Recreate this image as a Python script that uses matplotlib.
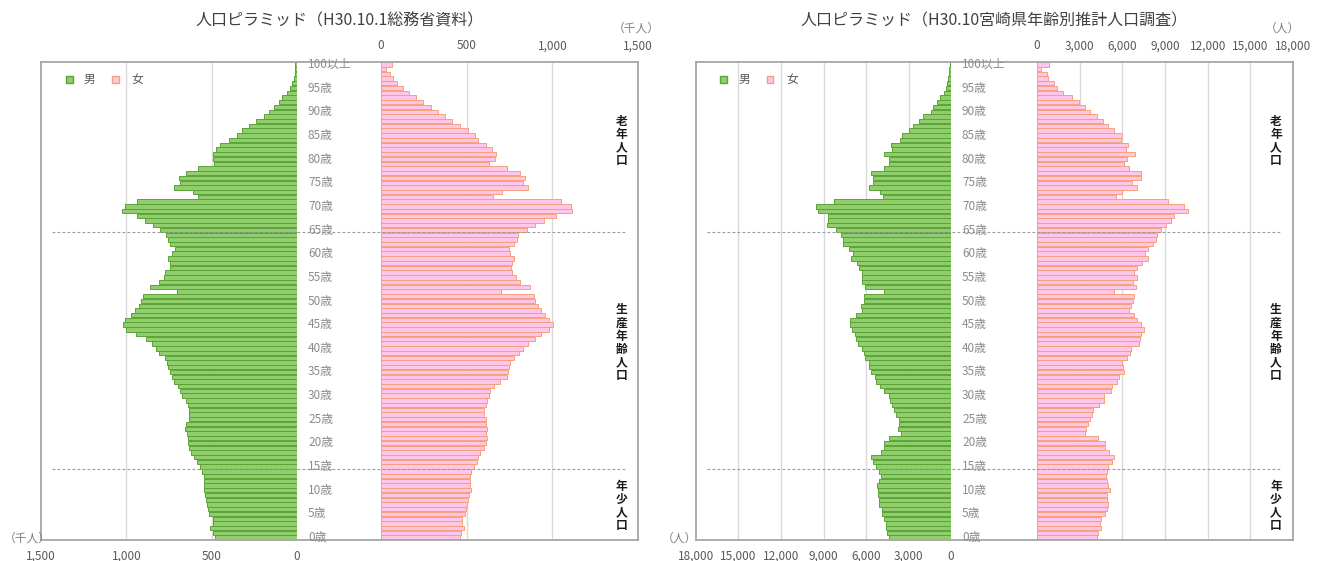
import matplotlib
matplotlib.use("Agg")
import matplotlib.pyplot as plt
from matplotlib.patches import Rectangle
from matplotlib.ticker import FixedLocator, FuncFormatter
from matplotlib.transforms import blended_transform_factory

plt.rcParams['font.family'] = ['Noto Sans CJK JP', 'DejaVu Sans']

# ---------------------------------------------------------------- data
ages = list(range(0, 101))  # 100 = 100歳以上

# 全国（総務省 H30.10.1, 千人）
japan_male = [
    479, 490, 511, 490, 495, 513, 524, 529, 533, 540,
    547, 545, 542, 542, 556, 567, 585, 601, 619, 630,
    639, 641, 646, 655, 650, 634, 630, 634, 641, 652,
    675, 686, 698, 718, 731, 747, 754, 763, 776, 810,
    826, 850, 885, 945, 1001, 1019, 1006, 974, 950, 927,
    916, 900, 702, 862, 810, 781, 772, 747, 747, 754,
    731, 713, 742, 754, 765, 803, 844, 889, 940, 1024,
    1008, 940, 578, 607, 720, 686, 691, 652, 578, 484,
    490, 490, 472, 450, 400, 353, 322, 281, 241, 196,
    164, 135, 108, 85, 61, 43, 29, 20, 13, 9,
    10,
]
japan_female = [
    459, 466, 486, 470, 475, 493, 497, 500, 506, 511,
    524, 522, 520, 518, 527, 545, 558, 567, 578, 601,
    612, 617, 614, 617, 612, 610, 601, 601, 610, 617,
    628, 639, 657, 695, 734, 740, 745, 752, 774, 803,
    830, 860, 898, 932, 981, 1004, 981, 959, 932, 914,
    898, 893, 702, 869, 812, 790, 763, 756, 763, 774,
    752, 747, 774, 792, 797, 853, 898, 950, 1022, 1116,
    1107, 1051, 655, 706, 860, 826, 842, 812, 734, 632,
    668, 670, 650, 612, 565, 549, 509, 464, 414, 374,
    333, 290, 248, 207, 162, 126, 95, 72, 54, 32,
    67,
]

# 宮崎県（H30.10 年齢別推計人口調査, 人）
miyazaki_male = [
    4400, 4537, 4565, 4619, 4755, 4836, 4863, 5054, 5108, 5135,
    5162, 5190, 5054, 4945, 5108, 5325, 5488, 5624, 4945, 4755,
    4700, 4347, 3532, 3749, 3668, 3668, 3885, 3994, 4184, 4293,
    4401, 4728, 5026, 5271, 5380, 5624, 5760, 5787, 6086, 6168,
    6249, 6575, 6738, 6793, 6960, 7119, 7146, 6684, 6249, 6331,
    6113, 6168, 4700, 6086, 6249, 6249, 6303, 6467, 6657, 7064,
    6928, 7173, 7608, 7608, 7743, 8097, 8776, 8694, 8694, 9374,
    9510, 8287, 4809, 5026, 5760, 5488, 5516, 5624, 4755, 4401,
    4401, 4700, 4130, 4211, 3614, 3478, 2989, 2663, 2228, 1956,
    1413, 1304, 1005, 761, 489, 380, 272, 190, 136, 109,
    100,
]
miyazaki_female = [
    4211, 4293, 4483, 4429, 4483, 4782, 4891, 4972, 4918, 4918,
    5108, 4999, 4891, 4863, 4891, 4972, 5271, 5380, 5054, 4755,
    4782, 4293, 3342, 3423, 3614, 3749, 3885, 3967, 4374, 4728,
    4728, 5190, 5244, 5651, 5787, 6140, 6059, 6005, 6331, 6548,
    6602, 7146, 7227, 7282, 7553, 7282, 7064, 6820, 6467, 6575,
    6738, 6793, 5380, 6956, 6738, 7010, 6793, 7010, 7417, 7771,
    7608, 7825, 8178, 8368, 8450, 8694, 9048, 9455, 9645, 10651,
    10352, 9238, 5570, 5977, 7010, 6684, 7282, 7282, 6467, 6140,
    6331, 6901, 6276, 6412, 5923, 5950, 5380, 4999, 4646, 4239,
    3749, 3342, 2934, 2445, 1793, 1440, 1168, 761, 706, 299,
    869,
]

age_label_pos = list(range(0, 101, 5))
age_label_text = [f"{a}歳" for a in range(0, 100, 5)] + ["100以上"]

japan_ticks = [0, 500, 1000, 1500]
miyazaki_ticks = [0, 3000, 6000, 9000, 12000, 15000, 18000]

legend_labels = ["男", "女"]
group_labels = ["老年人口", "生産年齢人口", "年少人口"]

titles = ["人口ピラミッド（H30.10.1総務省資料）",
          "人口ピラミッド（H30.10宮崎県年齢別推計人口調査）"]
units = ["（千人）", "（人）"]

# ---------------------------------------------------------------- style
W, H = 1320, 561
MALE_FACE, MALE_EDGE = "#8fcd6d", "#5aa334"
FEMALE_FACE, FEMALE_EDGE = "#ffc6ea", "#f5a07a"
GRID = "#d9d9d9"
FRAME = "#a6a6a6"
TICK_COLOR = "#595959"
AGE_COLOR = "#8c8c8c"

fig = plt.figure(figsize=(W / 100, H / 100), dpi=100)
fig.patch.set_facecolor("white")


def rect(x0, y0, x1, y1):
    return [x0 / W, 1 - y1 / H, (x1 - x0) / W, (y1 - y0) / H]


fmt = FuncFormatter(lambda v, p: f"{v:,.0f}")


def pyramid(cfg, male, female, ticks, title, unit):
    x0, xm, xf, x1, y0, y1 = cfg["x0"], cfg["xm"], cfg["xf"], cfg["x1"], 62, 540
    vmax = ticks[-1]

    # male half (left)
    axm = fig.add_axes(rect(x0, y0, xm, y1))
    axm.set_facecolor("none")
    axm.barh(ages, male, height=0.92, color=MALE_FACE, edgecolor=MALE_EDGE,
             linewidth=0.7, zorder=2)
    axm.set_xlim(vmax, 0)
    axm.set_ylim(-0.5, 100.5)
    for t in ticks[1:-1]:
        axm.axvline(t, color=GRID, lw=1.0, zorder=1)
    axm.xaxis.set_major_locator(FixedLocator(ticks))
    axm.xaxis.set_major_formatter(fmt)
    axm.tick_params(axis="x", length=0, pad=7, labelsize=8.5,
                    labelcolor=TICK_COLOR)
    axm.set_yticks([])
    for s in axm.spines.values():
        s.set_visible(False)

    # female half (right)
    axf = fig.add_axes(rect(xf, y0, x1, y1))
    axf.set_facecolor("none")
    axf.barh(ages, female, height=0.92, color=FEMALE_FACE,
             edgecolor=FEMALE_EDGE, linewidth=0.7, zorder=2)
    axf.set_xlim(0, vmax)
    axf.set_ylim(-0.5, 100.5)
    for t in ticks[1:-1]:
        axf.axvline(t, color=GRID, lw=1.0, zorder=1)
    axf.xaxis.tick_top()
    axf.xaxis.set_major_locator(FixedLocator(ticks))
    axf.xaxis.set_major_formatter(fmt)
    axf.tick_params(axis="x", length=0, pad=7, labelsize=8.5,
                    labelcolor=TICK_COLOR)
    axf.set_yticks([])
    for s in axf.spines.values():
        s.set_visible(False)
    axf.axvline(0, color=FEMALE_EDGE, lw=1.2, zorder=3)

    # outer frame and age-group separators
    axo = fig.add_axes(rect(x0, y0, x1, y1))
    axo.set_facecolor("none")
    axo.set_xlim(x0, x1)
    axo.set_ylim(-0.5, 100.5)
    axo.set_xticks([])
    axo.set_yticks([])
    for s in axo.spines.values():
        s.set_color(FRAME)
        s.set_linewidth(1.3)
    for b in (14.5, 64.5):
        axo.plot([x0 + 11, x1 - 12], [b, b], color="#9a9a9a", lw=0.8,
                 ls=(0, (2.5, 2)), zorder=5)

    # age labels between the halves
    tr = blended_transform_factory(fig.transFigure, axo.transData)
    for a, s in zip(age_label_pos, age_label_text):
        fig.text((xm + 11) / W, a, s, transform=tr, ha="left", va="center",
                 fontsize=8.5, color=AGE_COLOR, zorder=6)

    # vertical group captions
    cx = cfg["cap_x"]
    for label, yc in zip(group_labels, (141, 343, 506)):
        n = len(label)
        for i, ch in enumerate(label):
            yy = yc + (i - (n - 1) / 2) * 13.2
            fig.text(cx / W, 1 - yy / H, ch, ha="center", va="center",
                     fontsize=8.5, fontweight="bold", color="#1a1a1a")

    # legend
    lx = cfg["leg_x"]
    for (dx, face, edge, lab, tx) in ((0, MALE_FACE, MALE_EDGE, legend_labels[0], 15),
                                      (46, FEMALE_FACE, FEMALE_EDGE, legend_labels[1], 16)):
        sq = Rectangle(((lx + dx - 3.5) / W, 1 - (79 + 3.5) / H), 7 / W, 7 / H,
                       transform=fig.transFigure, facecolor=face, edgecolor=edge,
                       linewidth=1.0)
        fig.add_artist(sq)
        fig.text((lx + dx + tx) / W, 1 - 79 / H, lab, ha="left", va="center",
                 fontsize=8.5, color=TICK_COLOR)

    # title and units
    fig.text((x0 + x1) / 2 / W, 1 - 21 / H, title, ha="center", va="center",
             fontsize=11.5, color="#404040")
    fig.text(cfg["unit_top"] / W, 1 - 28 / H, unit, ha="right", va="center",
             fontsize=8.5, color="#7f7f7f")
    fig.text(cfg["unit_bot"] / W, 1 - 538 / H, unit, ha="left", va="center",
             fontsize=8.5, color="#7f7f7f")


pyramid(dict(x0=41, xm=297, xf=381, x1=638, cap_x=621.5, leg_x=69,
             unit_top=660, unit_bot=4),
        japan_male, japan_female, japan_ticks, titles[0], units[0])
pyramid(dict(x0=696, xm=951, xf=1037, x1=1293, cap_x=1276, leg_x=724,
             unit_top=1300, unit_bot=662),
        miyazaki_male, miyazaki_female, miyazaki_ticks, titles[1], units[1])

fig.savefig("out.png", dpi=100, facecolor="white")
